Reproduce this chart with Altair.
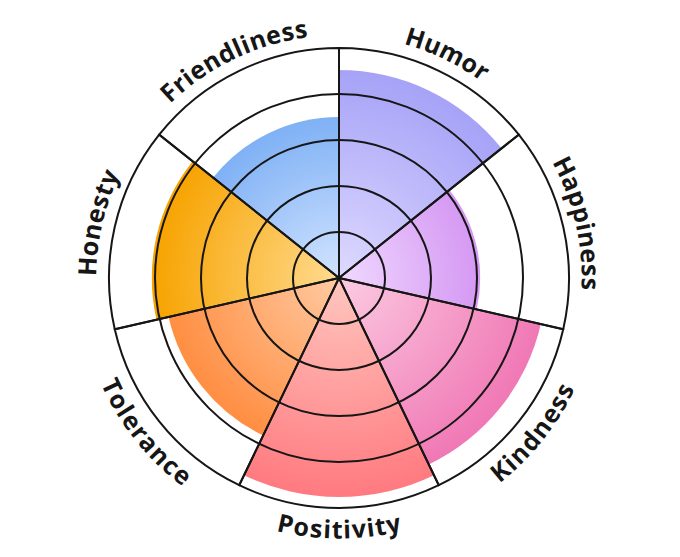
import math
import altair as alt
import pandas as pd

# ---- data ----
categories = ["Humor", "Happiness", "Kindness", "Positivity", "Tolerance", "Honesty", "Friendliness"]
values = [4.52, 3.07, 4.5, 4.76, 3.8, 4.07, 3.5]
ring_levels = [1, 2, 3, 4]
max_level = 5

center_colors = ["#dedaff", "#f0d9ff", "#fccbe2", "#ffc7bf", "#ffcaa2", "#ffdb90", "#d2e4ff"]
edge_colors = ["#a6a2f7", "#d598f3", "#f078b5", "#ff7a80", "#ff8e42", "#f7a300", "#7fb1f5"]

# ---- geometry / style ----
W, H = 662, 540
R_MAX = 230
N = len(categories)
FS = 25
LABEL_R_TOP = 5.45
LABEL_R_BOTTOM = 5.49
INK = "#161616"

theta_scale = alt.Scale(domain=[0, N], range=[0, 2 * math.pi])
r_scale = alt.Scale(type="linear", domain=[0, max_level], range=[0, R_MAX], zero=True, nice=False)

df = pd.DataFrame({
    "name": categories,
    "start": list(range(N)),
    "end": [i + 1 for i in range(N)],
    "value": values,
    "full": [max_level] * N,
})
rings = pd.DataFrame({"level": ring_levels, "start": [0] * len(ring_levels), "end": [N] * len(ring_levels)})


def gradient(i, v, c0, c1):
    R = v / max_level * R_MAX
    t1 = i * 2 * math.pi / N
    t2 = (i + 1) * 2 * math.pi / N
    pts = [(0.0, 0.0), (R * math.sin(t1), -R * math.cos(t1)), (R * math.sin(t2), -R * math.cos(t2))]
    for k in range(4):
        a = k * math.pi / 2
        if t1 < a < t2:
            pts.append((R * math.sin(a), -R * math.cos(a)))
    xs = [p[0] for p in pts]
    ys = [p[1] for p in pts]
    s = max(max(xs) - min(xs), max(ys) - min(ys))
    cx = (max(xs) + min(xs)) / 2
    cy = (max(ys) + min(ys)) / 2
    u = 0.5 - cx / s
    w = 0.5 - cy / s
    return {
        "gradient": "radial",
        "x1": u, "y1": w, "r1": 0,
        "x2": u, "y2": w, "r2": R / s,
        "stops": [{"offset": 0, "color": c0}, {"offset": 1, "color": c1}],
    }


base = alt.Chart(df)
layers = []
for i, name in enumerate(categories):
    layers.append(
        base.transform_filter(alt.datum.name == name)
        .mark_arc(fill=gradient(i, values[i], center_colors[i], edge_colors[i]), strokeWidth=0)
        .encode(
            theta=alt.Theta("start:Q", scale=theta_scale, stack=None),
            theta2="end:Q",
            radius=alt.Radius("value:Q", scale=r_scale),
        )
    )

ring_layer = alt.Chart(rings).mark_arc(filled=False, color=INK, strokeWidth=2).encode(
    theta=alt.Theta("start:Q", scale=theta_scale, stack=None),
    theta2="end:Q",
    radius=alt.Radius("level:Q", scale=r_scale),
)

outline_layer = base.mark_arc(filled=False, color=INK, strokeWidth=2).encode(
    theta=alt.Theta("start:Q", scale=theta_scale, stack=None),
    theta2="end:Q",
    radius=alt.Radius("full:Q", scale=r_scale),
)

# ---- curved labels: one text mark per character ----
W_EM = {
    "a": 0.59, "b": 0.63, "c": 0.51, "d": 0.63, "e": 0.59, "f": 0.39, "g": 0.56, "h": 0.645,
    "i": 0.30, "l": 0.30, "m": 0.96, "n": 0.645, "o": 0.61, "p": 0.63, "r": 0.44, "s": 0.50,
    "t": 0.42, "u": 0.645, "v": 0.56, "y": 0.56, "H": 0.76, "F": 0.56, "K": 0.65, "P": 0.62,
    "T": 0.57,
}
SPACING = 1.0

rows = []
for i, name in enumerate(categories):
    tc = (i + 0.5) * 2 * math.pi / N
    top = tc < math.pi / 2 or tc > 1.5 * math.pi
    lr = LABEL_R_TOP if top else LABEL_R_BOTTOM
    r_text = lr / max_level * R_MAX
    widths = [W_EM.get(c, 0.58) * FS + SPACING for c in name]
    total = sum(widths)
    cum = 0.0
    for c, w in zip(name, widths):
        off = (cum + w / 2 - total / 2) / r_text
        th = tc + off if top else tc - off
        rot = math.degrees(th) if top else math.degrees(th) - 180
        rows.append({"ch": c, "t": th * N / (2 * math.pi), "rot": rot % 360, "r": lr})
        cum += w
labels = pd.DataFrame(rows)

label_layer = alt.Chart(labels).mark_text(
    font="Open Sans", fontWeight="bold", fontSize=FS, color=INK, align="center", baseline="middle"
).encode(
    theta=alt.Theta("t:Q", scale=theta_scale, stack=None),
    radius=alt.Radius("r:Q", scale=r_scale),
    angle=alt.Angle("rot:Q", scale=None),
    text="ch:N",
)

chart = alt.layer(*layers, ring_layer, outline_layer, label_layer).properties(
    width=W, height=H, padding=0, autosize=alt.AutoSizeParams(type="none"), background="white"
).configure_view(stroke=None)

chart.save("out.html", embed_options={"renderer": "svg", "actions": False})
